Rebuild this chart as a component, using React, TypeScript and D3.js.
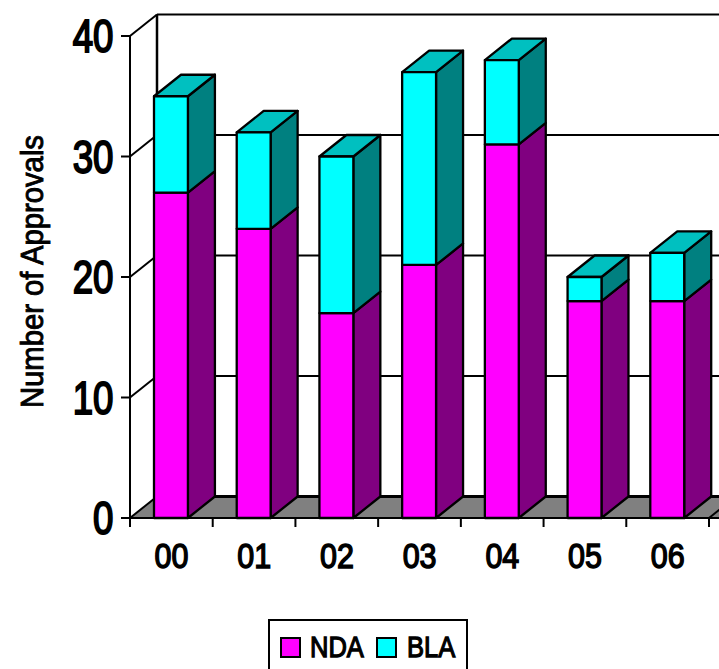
import React from "react";
import * as d3 from "d3";

const years = ["00", "01", "02", "03", "04", "05", "06"];
const ndaValues = [27, 24, 17, 21, 31, 18, 18];
const blaValues = [8, 8, 13, 16, 7, 2, 4];
const yTicks = [0, 10, 20, 30, 40];

const WIDTH = 719;
const HEIGHT = 669;
const DEPTH_X = 27;
const DEPTH_Y = -21.5;
const TICK_RIGHT = 709;
const FONT = "'Liberation Sans', Arial, sans-serif";

const x = d3.scaleBand<string>().domain(years).range([129.6, 708.6]).paddingInner(0.59).paddingOuter(0.295);
const y = d3.scaleLinear().domain([0, 40]).range([518, 36]);

const pts = (p: [number, number][]) => p.map((q) => q.join(",")).join(" ");

// Regular type squeezed horizontally and thickened with an outline, since no condensed face is installed
function Narrow({ x: tx, y: ty, size, squeeze, weight, anchor = "start", children }: { x: number; y: number; size: number; squeeze: number; weight: number; anchor?: string; children: React.ReactNode }) {
  return (
    <text transform={`translate(${tx},${ty}) scale(${squeeze},1)`} textAnchor={anchor} fontSize={size} fill="#000" stroke="#000" strokeWidth={weight}>
      {children}
    </text>
  );
}

function Segment({ x0, w, lo, hi, front, side, top }: { x0: number; w: number; lo: number; hi: number; front: string; side: string; top?: string }) {
  const x1 = x0 + w;
  const yl = y(lo);
  const yh = y(hi);
  return (
    <g stroke="#000" strokeWidth={2.3} strokeLinejoin="round">
      <polygon fill={side} points={pts([[x1, yl], [x1 + DEPTH_X, yl + DEPTH_Y], [x1 + DEPTH_X, yh + DEPTH_Y], [x1, yh]])} />
      {top && <polygon fill={top} points={pts([[x0, yh], [x0 + DEPTH_X, yh + DEPTH_Y], [x1 + DEPTH_X, yh + DEPTH_Y], [x1, yh]])} />}
      <rect x={x0} y={yh} width={w} height={yl - yh} fill={front} />
    </g>
  );
}

export default function App() {
  const right = WIDTH + 2;
  return (
    <svg width={WIDTH} height={HEIGHT} style={{ position: "fixed", left: 0, top: 0, background: "#fff" }} fontFamily={FONT}>
      {/* back wall and floor */}
      <polygon fill="#808080" stroke="none" points={pts([[130, 518], [130 + DEPTH_X, 518 + DEPTH_Y], [right, 518 + DEPTH_Y], [right, 518]])} />
      {yTicks.slice(1).map((t) => (
        <line key={t} x1={130 + DEPTH_X} x2={right} y1={y(t) + DEPTH_Y} y2={y(t) + DEPTH_Y} stroke="#000" strokeWidth={2} />
      ))}
      <line x1={130 + DEPTH_X} x2={right} y1={518 + DEPTH_Y} y2={518 + DEPTH_Y} stroke="#000" strokeWidth={3} />
      <line x1={130 + DEPTH_X} x2={130 + DEPTH_X} y1={y(40) + DEPTH_Y} y2={518 + DEPTH_Y} stroke="#000" strokeWidth={2.5} />
      <line x1={TICK_RIGHT} x2={TICK_RIGHT + DEPTH_X} y1={518} y2={518 + DEPTH_Y} stroke="#000" strokeWidth={2} />

      {/* left wall edges */}
      {yTicks.map((t) => (
        <line key={t} x1={130} x2={130 + DEPTH_X} y1={y(t)} y2={y(t) + DEPTH_Y} stroke="#000" strokeWidth={2} />
      ))}

      {/* axes */}
      <line x1={130} x2={130} y1={y(40)} y2={518} stroke="#000" strokeWidth={2} />
      <line x1={130} x2={right} y1={518} y2={518} stroke="#000" strokeWidth={2} />
      {yTicks.map((t) => (
        <g key={t}>
          <line x1={121} x2={130} y1={y(t)} y2={y(t)} stroke="#000" strokeWidth={2} />
          <Narrow x={113.5} y={y(t) + 16} size={47} squeeze={0.78} weight={2} anchor="end">{t}</Narrow>
        </g>
      ))}
      {d3.range(8).map((i) => {
        const tx = 130 + (i * (TICK_RIGHT - 130)) / 7;
        return <line key={i} x1={tx} x2={tx} y1={518} y2={527} stroke="#000" strokeWidth={2} />;
      })}
      {years.map((c) => (
        <Narrow key={c} x={x(c)! + x.bandwidth() / 2 + 0.5} y={568} size={35} squeeze={0.87} weight={1.5} anchor="middle">{c}</Narrow>
      ))}
      <text transform="translate(43,408) rotate(-90)" textLength={273} lengthAdjust="spacingAndGlyphs" fontSize={31} fill="#000" stroke="#000" strokeWidth={0.9}>Number of Approvals</text>

      {/* stacked bars */}
      {years.map((c, i) => {
        const x0 = x(c)!;
        const w = x.bandwidth();
        return (
          <g key={c}>
            <Segment x0={x0} w={w} lo={0} hi={ndaValues[i]} front="#ff00ff" side="#800080" />
            <Segment x0={x0} w={w} lo={ndaValues[i]} hi={ndaValues[i] + blaValues[i]} front="#00ffff" side="#008080" top="#00c0c0" />
          </g>
        );
      })}

      {/* legend, its lower edge running off the page */}
      <rect x={269} y={620} width={198} height={60} fill="#fff" stroke="#000" strokeWidth={2} />
      <rect x={281} y={638} width={19} height={19} fill="#ff00ff" stroke="#000" strokeWidth={2} />
      <Narrow x={310} y={657} size={30} squeeze={0.85} weight={1.3}>NDA</Narrow>
      <rect x={377} y={638} width={19} height={19} fill="#00ffff" stroke="#000" strokeWidth={2} />
      <Narrow x={407} y={657} size={30} squeeze={0.85} weight={1.3}>BLA</Narrow>
    </svg>
  );
}
